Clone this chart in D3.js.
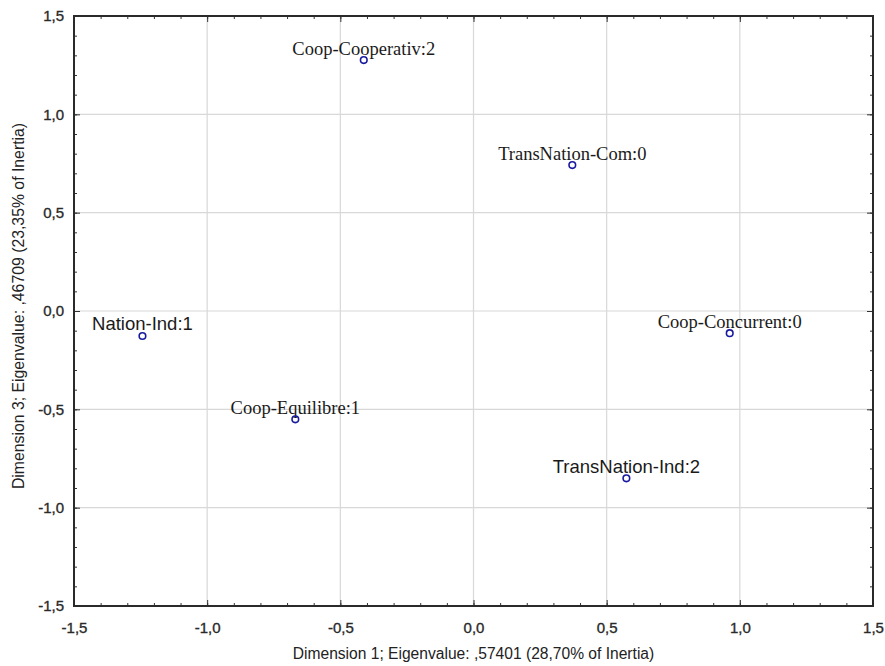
<!DOCTYPE html>
<html><head><meta charset="utf-8">
<script src="https://cdn.jsdelivr.net/npm/d3@7"></script>
<style>body{margin:0;background:#fff;}</style>
</head><body>
<svg id="c" width="885" height="666"></svg>
<script>
const labels = ["Coop-Cooperativ:2","TransNation-Com:0","Coop-Concurrent:0","Nation-Ind:1","Coop-Equilibre:1","TransNation-Ind:2"];
const dim1 = [-0.412, 0.371, 0.962, -1.243, -0.669, 0.574];
const dim3 = [1.276, 0.742, -0.113, -0.127, -0.551, -0.851];
const labelFont = ["serif","serif","serif","sans","serif","sans"];
const majorTicks = [-1.5,-1.0,-0.5,0.0,0.5,1.0,1.5];
const xTitle = "Dimension 1; Eigenvalue: ,57401 (28,70% of Inertia)";
const yTitle = "Dimension 3; Eigenvalue: ,46709 (23,35% of Inertia)";

const svg = d3.select("#c");
const L=74, R=873, T=16, B=606;
const x = d3.scaleLinear().domain([-1.5,1.5]).range([L,R]);
const y = d3.scaleLinear().domain([-1.5,1.5]).range([B,T]);
const fmt = d => d3.format(".1f")(d).replace("−","-").replace(".",",");
const minor = d3.range(-15,16).map(v=>v/10);
const SANS = "Liberation Sans, Arial, sans-serif";
const SERIF = "Liberation Serif, Times New Roman, serif";

// grid
const g = svg.append("g");
g.selectAll(".gx").data(majorTicks.slice(1,-1)).join("line")
  .attr("x1",d=>x(d)).attr("x2",d=>x(d)).attr("y1",T).attr("y2",B)
  .attr("stroke","#d8d8d8").attr("stroke-width",1.2);
g.selectAll(".gy").data(majorTicks.slice(1,-1)).join("line")
  .attr("y1",d=>y(d)).attr("y2",d=>y(d)).attr("x1",L).attr("x2",R)
  .attr("stroke","#d8d8d8").attr("stroke-width",1.2);

// inward ticks on all four sides
function tickAxis(axisGen, tr, size){
  return svg.append("g").attr("transform",tr)
    .call(axisGen.tickSize(size).tickFormat(""))
    .call(s=>s.select(".domain").remove())
    .call(s=>s.selectAll("line").attr("stroke","#333").attr("stroke-width",1));
}
const minorSize = 3, majorSize = 6;
tickAxis(d3.axisBottom(x).tickValues(minor), `translate(0,${B})`, -minorSize);
tickAxis(d3.axisBottom(x).tickValues(majorTicks), `translate(0,${B})`, -majorSize);
tickAxis(d3.axisTop(x).tickValues(minor), `translate(0,${T})`, -minorSize);
tickAxis(d3.axisTop(x).tickValues(majorTicks), `translate(0,${T})`, -majorSize);
tickAxis(d3.axisLeft(y).tickValues(minor), `translate(${L},0)`, -minorSize);
tickAxis(d3.axisLeft(y).tickValues(majorTicks), `translate(${L},0)`, -majorSize);
tickAxis(d3.axisRight(y).tickValues(minor), `translate(${R},0)`, -minorSize);
tickAxis(d3.axisRight(y).tickValues(majorTicks), `translate(${R},0)`, -majorSize);

// frame
svg.append("rect").attr("x",L).attr("y",T).attr("width",R-L).attr("height",B-T)
  .attr("fill","none").attr("stroke","#2a2a2a").attr("stroke-width",2);

// tick labels
const ax = svg.append("g").attr("transform",`translate(0,${B})`)
  .call(d3.axisBottom(x).tickValues(majorTicks).tickSize(0).tickPadding(16).tickFormat(fmt));
ax.select(".domain").remove();
const ay = svg.append("g").attr("transform",`translate(${L},0)`)
  .call(d3.axisLeft(y).tickValues(majorTicks).tickSize(0).tickPadding(10).tickFormat(fmt));
ay.select(".domain").remove();
svg.selectAll(".tick text").attr("font-family",SANS)
  .attr("font-size",15).attr("fill","#2a2a2a").attr("stroke","#2a2a2a").attr("stroke-width",0.35);

// axis titles
svg.append("text").attr("x",(L+R)/2).attr("y",659).attr("text-anchor","middle")
  .attr("font-family",SANS).attr("font-size",15.6)
  .attr("fill","#222").text(xTitle);
svg.append("text").attr("transform",`translate(24,306) rotate(-90)`)
  .attr("text-anchor","middle")
  .attr("font-family",SANS).attr("font-size",15.8)
  .attr("fill","#222").text(yTitle);

// points & labels
const data = labels.map((l,i)=>({l, x:dim1[i], y:dim3[i], f:labelFont[i]}));
svg.append("g").selectAll("text").data(data).join("text")
  .attr("x",d=>x(d.x)).attr("y",d=>y(d.y)-5.5).attr("text-anchor","middle")
  .attr("font-family",d=>d.f==="serif"?SERIF:SANS)
  .attr("font-size",18.5)
  .attr("fill","#1a1a1a").text(d=>d.l);
svg.append("g").selectAll("circle").data(data).join("circle")
  .attr("cx",d=>x(d.x)).attr("cy",d=>y(d.y)).attr("r",3.3)
  .attr("fill","none").attr("stroke","#1a1aa0").attr("stroke-width",1.6);
</script>
</body></html>
